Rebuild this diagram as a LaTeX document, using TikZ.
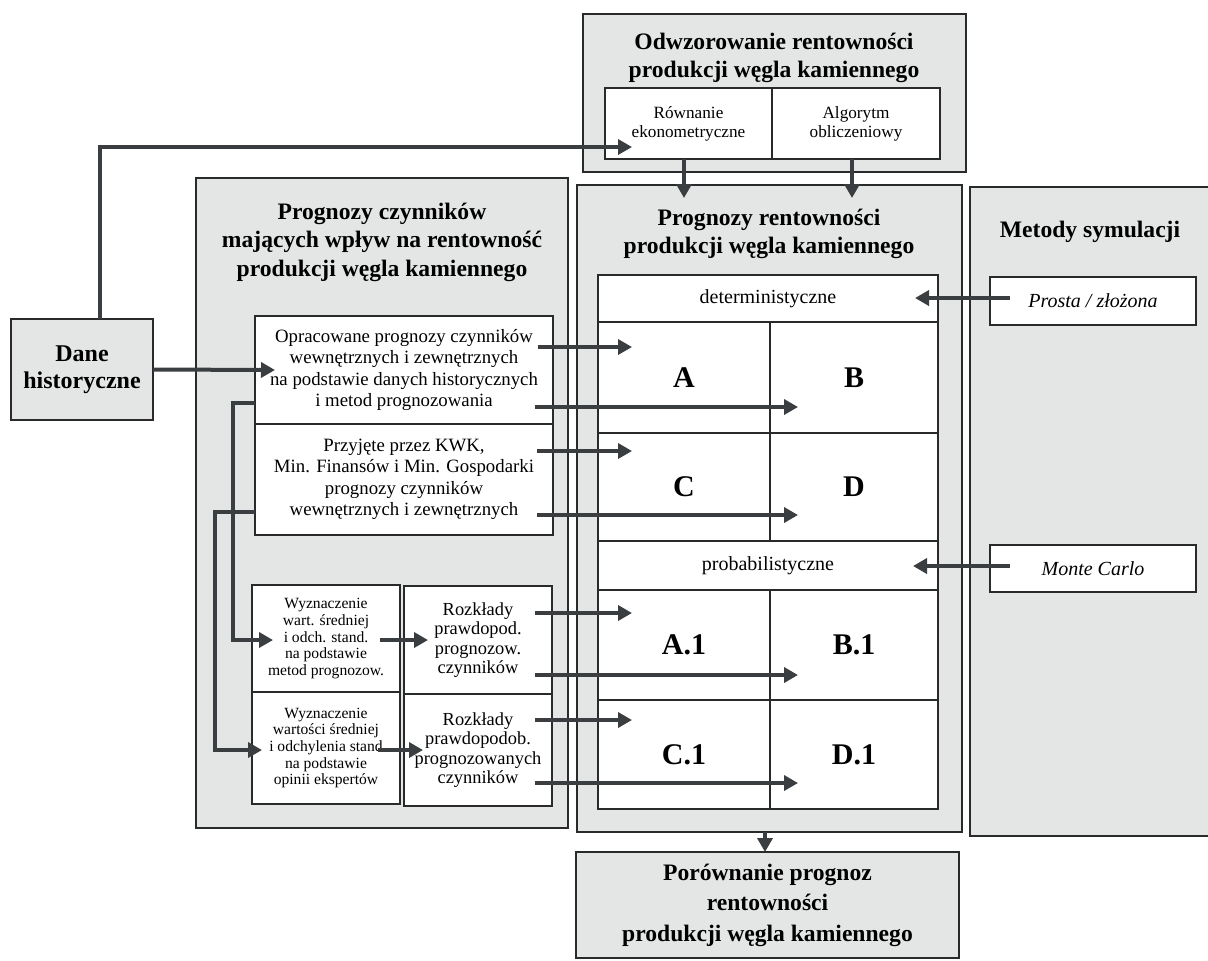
\documentclass[tikz,border=0pt]{standalone}
\usepackage{fontspec}
\setmainfont{Liberation Serif}
\usetikzlibrary{arrows.meta,calc}

\definecolor{boxgray}{RGB}{228,229,229}
\definecolor{linegray}{RGB}{40,42,44}
\definecolor{arrowgray}{RGB}{58,62,64}

\begin{document}
\begin{tikzpicture}[x=0.5pt,y=-0.5pt,
    panel/.style={draw=linegray, fill=boxgray, line width=1pt, inner sep=0pt, outer sep=0pt, align=center},
    cell/.style={draw=linegray, fill=white, line width=0.8pt, inner sep=0pt, outer sep=0pt, align=center},
    headtext/.style={font=\bfseries\fontsize{11.8}{14.2}\selectfont, align=center},
    celltext/.style={font=\fontsize{9.4}{10.75}\selectfont},
    smalltext/.style={font=\fontsize{7.8}{8.3}\selectfont},
    disttext/.style={font=\fontsize{9.2}{9.75}\selectfont},
    toptext/.style={font=\fontsize{8.6}{9.5}\selectfont},
    rowtext/.style={font=\fontsize{10}{12}\selectfont},
    lettertext/.style={font=\bfseries\fontsize{15}{18}\selectfont},
    methodtext/.style={font=\itshape\fontsize{10}{12}\selectfont},
    arr/.style={draw=arrowgray, line width=2pt, -{Triangle[length=7pt,width=7.5pt]}},
    feed/.style={draw=arrowgray, line width=2pt}
  ]
    \useasboundingbox (0,0) rectangle (1208,960);
    \fill[white] (0,0) rectangle (1208,960);
    \clip (0,0) rectangle (1208,960);

    % large panels
    \node[panel, minimum width=191.5pt, minimum height=79pt] (odw) at (774.5,93) {};
    \node[headtext] (odwtitle) at (774,58) {Odwzorowanie rentowności\\produkcji węgla kamiennego};
    \node[panel, minimum width=186pt, minimum height=325pt] (prz) at (382,503) {};
    \node[headtext] (prztitle) at (382,242) {Prognozy czynników\\mających wpływ na rentowność\\produkcji węgla kamiennego};
    \node[panel, minimum width=192.5pt, minimum height=323.5pt] (prr) at (769.5,508.5) {};
    \node[headtext] (prrtitle) at (769,234) {Prognozy rentowności\\produkcji węgla kamiennego};
    \node[panel, minimum width=125pt, minimum height=324.5pt] (met) at (1095,511.5) {};
    \node[headtext] (mettitle) at (1090,232) {Metody symulacji};
    \node[panel, headtext, font=\bfseries\fontsize{12}{13.5}\selectfont, minimum width=71pt, minimum height=50.5pt] (dane) at (82,369.5) {Dane\\historyczne};
    \node[panel, headtext, font=\bfseries\fontsize{11.8}{15.2}\selectfont, minimum width=191.5pt, minimum height=53pt] (por) at (767.5,905) {Porównanie prognoz\\rentowności\\produkcji węgla kamiennego};

    % top cells
    \node[cell, toptext, minimum width=83.5pt, minimum height=35.5pt] (rown) at (688.5,123.5) {Równanie\\ekonometryczne};
    \node[cell, toptext, minimum width=84pt, minimum height=35.5pt] (alg) at (856,123.5) {Algorytm\\obliczeniowy};

    % left cells
    \node[cell, celltext, minimum width=149pt, minimum height=54pt] (opr) at (404,370) {Opracowane prognozy czynników\\wewnętrznych i zewnętrznych\\na podstawie danych historycznych\\i metod prognozowania};
    \node[cell, celltext, minimum width=149pt, minimum height=55.5pt] (przyj) at (404,479.5) {Przyjęte przez KWK,\\Min. Finansów i Min. Gospodarki\\prognozy czynników\\wewnętrznych i zewnętrznych};
    \node[cell, smalltext, minimum width=74pt, minimum height=53.5pt] (wyz1) at (326,638.5) {Wyznaczenie\\wart. średniej\\i odch. stand.\\na podstawie\\metod prognozow.};
    \node[cell, smalltext, minimum width=74pt, minimum height=56pt] (wyz2) at (326,748) {Wyznaczenie\\wartości średniej\\i odchylenia stand\\na podstawie\\opinii ekspertów};
    \node[cell, disttext, minimum width=74pt, minimum height=54pt] (roz1) at (478,640) {Rozkłady\\prawdopod.\\prognozow.\\czynników};
    \node[cell, disttext, minimum width=74pt, minimum height=56pt] (roz2) at (478,750) {Rozkłady\\prawdopodob.\\prognozowanych\\czynników};

    % table of forecasts
    \node[cell, rowtext, minimum width=170pt, minimum height=23.5pt] (det) at (768,298.5) {deterministyczne};
    \node[cell, lettertext, minimum width=86pt, minimum height=55.5pt] (cA) at (684,377.5) {A};
    \node[cell, lettertext, minimum width=84pt, minimum height=55.5pt] (cB) at (854,377.5) {B};
    \node[cell, lettertext, minimum width=86pt, minimum height=54pt] (cC) at (684,487) {C};
    \node[cell, lettertext, minimum width=84pt, minimum height=54pt] (cD) at (854,487) {D};
    \node[cell, rowtext, minimum width=170pt, minimum height=24.5pt] (prob) at (768,565.5) {probabilistyczne};
    \node[cell, lettertext, minimum width=86pt, minimum height=55pt] (cA1) at (684,645) {A.1};
    \node[cell, lettertext, minimum width=84pt, minimum height=55pt] (cB1) at (854,645) {B.1};
    \node[cell, lettertext, minimum width=86pt, minimum height=54.5pt] (cC1) at (684,754.5) {C.1};
    \node[cell, lettertext, minimum width=84pt, minimum height=54.5pt] (cD1) at (854,754.5) {D.1};

    % simulation methods
    \node[cell, methodtext, minimum width=103pt, minimum height=24pt] (prosta) at (1093,301) {Prosta / złożona};
    \node[cell, methodtext, minimum width=103pt, minimum height=23.5pt] (monte) at (1093,568.5) {Monte Carlo};

    % connectors
    \draw[arr] ([xshift=9pt]dane.north) |- ($(rown.west)+(27,23.5)$);
    \draw[arr] (dane.east) -- ($(opr.west)+(20,0)$);
    \draw[arr] ([xshift=-2.25pt]rown.south) coordinate (r1) -- ($(r1 |- prr.north)+(0,13)$);
    \draw[arr] ([xshift=-2pt]alg.south) coordinate (r2) -- ($(r2 |- prr.north)+(0,13)$);

    \draw[arr] ($(opr.east)+(-15,-23)$) coordinate (o1) -- ($(cA.west |- o1)+(34,0)$);
    \draw[arr] ($(opr.east)+(-18,37)$) coordinate (o2) -- ($(cB.west |- o2)+(28,0)$);
    \draw[arr] ($(przyj.east)+(-16,-28.5)$) coordinate (p1) -- ($(cC.west |- p1)+(34,0)$);
    \draw[arr] ($(przyj.east)+(-16,35.5)$) coordinate (p2) -- ($(cD.west |- p2)+(28,0)$);
    \draw[arr] ($(roz1.east)+(-17,-27)$) coordinate (q1) -- ($(cA1.west |- q1)+(34,0)$);
    \draw[arr] ($(roz1.east)+(-17,35)$) coordinate (q2) -- ($(cB1.west |- q2)+(28,0)$);
    \draw[arr] ($(roz2.east)+(-17,-30)$) coordinate (q3) -- ($(cC1.west |- q3)+(34,0)$);
    \draw[arr] ($(roz2.east)+(-17,33)$) coordinate (q4) -- ($(cD1.west |- q4)+(28,0)$);

    \draw[arr] ($(opr.west)+(0,33)$) -- ++(-22,0) |- ($(wyz1.west)+(21,1.5)$);
    \draw[arr] ($(przyj.west)+(0,32.5)$) -- ++(-40,0) |- ($(wyz2.west)+(10,2)$);
    \draw[arr] ($(wyz1.east)+(-20,1.5)$) -- ($(roz1.west)+(24,0)$);
    \draw[arr] ($(wyz2.east)+(-22,2)$) -- ($(roz2.west)+(19,0)$);

    \draw[arr] ($(prosta.west)+(20,-3)$) -- ($(det.east)+(-23,-0.5)$);
    \draw[arr] ($(monte.west)+(20,-2.5)$) -- ($(prob.east)+(-25,0.5)$);
    \draw[arr] ([xshift=-2.25pt]prr.south) -- ([xshift=-1.25pt]por.north);
\end{tikzpicture}
\end{document}
